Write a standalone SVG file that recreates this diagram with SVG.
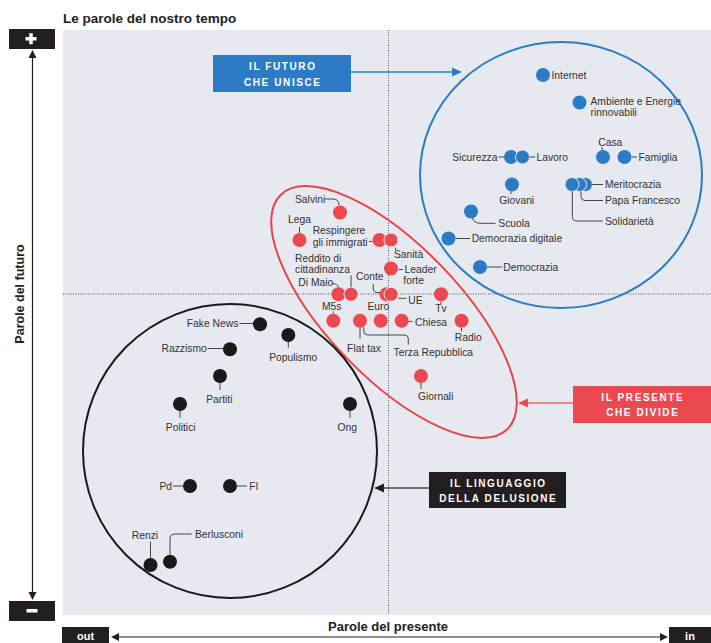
<svg xmlns="http://www.w3.org/2000/svg" width="711" height="643" viewBox="0 0 711 643">
<style>
.lbl{font-family:"Liberation Sans",Arial,sans-serif;font-size:10.3px;fill:#333}
.mid{text-anchor:middle}
.end{text-anchor:end}
.cap{font-family:"Liberation Sans",Arial,sans-serif;font-size:10px;font-weight:bold;fill:#fff;letter-spacing:1.6px;text-anchor:middle}
.ax{font-family:"Liberation Sans",Arial,sans-serif;font-weight:bold;fill:#222}
.ld{fill:none;stroke:#333;stroke-width:0.9}
.b{fill:#2b7cc4}.r{fill:#ea4a4f}.k{fill:#1a1a1a}
.ov{stroke:#e6e9ef;stroke-width:1}
.dot{stroke:#555;stroke-width:1;stroke-dasharray:1 1.5;fill:none}
</style>
<rect x="0" y="0" width="711" height="643" fill="#ffffff"/>
<text class="ax" x="63" y="22.5" font-size="13.5">Le parole del nostro tempo</text>
<rect x="63" y="30" width="648" height="585" fill="#e6e9ef"/>
<line class="dot" x1="388.5" y1="30" x2="388.5" y2="615"/>
<line class="dot" x1="63" y1="294" x2="711" y2="294"/>

<g id="axis-y">
<rect x="9" y="29" width="46" height="20" fill="#231f20"/>
<rect x="25.5" y="37" width="11" height="3.5" fill="#fff"/>
<rect x="29.25" y="33.25" width="3.5" height="11" fill="#fff"/>
<rect x="9" y="601" width="46" height="20" fill="#231f20"/>
<rect x="26.5" y="609" width="11" height="3.5" fill="#fff"/>
<line x1="32.5" y1="57" x2="32.5" y2="593" stroke="#222" stroke-width="1.2"/>
<polygon points="32.5,50 28.5,58 36.5,58" fill="#222"/>
<polygon points="32.5,600 28.5,592 36.5,592" fill="#222"/>
<text class="ax mid" font-size="12.5" transform="translate(23.5,294) rotate(-90)">Parole del futuro</text>
</g>
<g id="axis-x">
<rect x="62" y="627" width="47" height="16" fill="#231f20"/>
<text class="ax mid" x="85.5" y="639.5" font-size="11" style="fill:#fff">out</text>
<rect x="669" y="627" width="42" height="16" fill="#231f20"/>
<text class="ax mid" x="690" y="639.5" font-size="11" style="fill:#fff">in</text>
<line x1="118" y1="637" x2="661" y2="637" stroke="#222" stroke-width="1.2"/>
<polygon points="111,637 119,633 119,641" fill="#222"/>
<polygon points="668,637 660,633 660,641" fill="#222"/>
<text class="ax mid" x="388" y="631" font-size="13">Parole del presente</text>
</g>

<g id="groups">
<ellipse cx="561" cy="175" rx="141" ry="133" fill="none" stroke="#2b7cc4" stroke-width="2"/>
<ellipse cx="394" cy="312" rx="163" ry="66" transform="rotate(46 394 312)" fill="none" stroke="#e8454a" stroke-width="2"/>
<circle cx="230" cy="451" r="147" fill="none" stroke="#1a1a1a" stroke-width="2"/>
</g>

<g id="connectors">
<line x1="351" y1="72" x2="454" y2="72" stroke="#2b7cc4" stroke-width="1.5"/>
<polygon points="462,72 452,67.5 452,76.5" fill="#2b7cc4"/>
<line x1="573" y1="403" x2="526" y2="403" stroke="#ee6468" stroke-width="1.5"/>
<polygon points="518,403 528,398.5 528,407.5" fill="#ea4a4f"/>
<line x1="429" y1="488" x2="382" y2="488" stroke="#444" stroke-width="1.5"/>
<polygon points="374,488 384,483.5 384,492.5" fill="#222"/>
</g>

<g id="callout-futuro">
<rect x="213" y="55" width="138" height="37" fill="#2b7cc4"/>
<text class="cap" x="282.8" y="69.5">IL FUTURO</text>
<text class="cap" x="282.8" y="85.5">CHE UNISCE</text>
</g>
<g id="callout-presente">
<rect x="573" y="386" width="138" height="37" fill="#ea4a4f"/>
<text class="cap" x="642.8" y="400.5">IL PRESENTE</text>
<text class="cap" x="642.8" y="416">CHE DIVIDE</text>
</g>
<g id="callout-delusione">
<rect x="429" y="472" width="137" height="36" fill="#231f20"/>
<text class="cap" x="498.3" y="486.5">IL LINGUAGGIO</text>
<text class="cap" x="498.3" y="502">DELLA DELUSIONE</text>
</g>

<!-- blue nodes -->
<g id="n-internet"><circle class="b" cx="543" cy="75" r="7"/><text class="lbl" x="551.5" y="78.8">Internet</text></g>
<g id="n-ambiente"><circle class="b" cx="579.5" cy="102.5" r="7"/><text class="lbl" x="590.5" y="104.5">Ambiente e Energie</text><text class="lbl" x="590.5" y="115.5">rinnovabili</text></g>
<g id="n-sicurezza"><circle class="b" cx="511" cy="157" r="7"/><text class="lbl end" x="497.5" y="160.7">Sicurezza</text><line class="ld" x1="498.5" y1="157" x2="504" y2="157"/></g>
<g id="n-lavoro"><circle class="b ov" cx="522.5" cy="157" r="7"/><line class="ld" x1="529.5" y1="157" x2="535" y2="157"/><text class="lbl" x="536.5" y="160.7">Lavoro</text></g>
<g id="n-casa"><circle class="b" cx="603" cy="157" r="7"/><text class="lbl" x="598.3" y="145.5">Casa</text><line class="ld" x1="602" y1="147" x2="602" y2="150"/></g>
<g id="n-famiglia"><circle class="b" cx="624.5" cy="157" r="7"/><line class="ld" x1="631.5" y1="157" x2="637" y2="157"/><text class="lbl" x="638.5" y="160.7">Famiglia</text></g>
<g id="n-meritocrazia"><circle class="b ov" cx="585.5" cy="184.5" r="7"/><line class="ld" x1="592" y1="184.5" x2="603" y2="184.5"/><text class="lbl" x="605" y="188.3">Meritocrazia</text></g>
<g id="n-papa"><circle class="b ov" cx="579.5" cy="184.5" r="7"/><path class="ld" d="M581,191.5 V196.5 Q581,200.5 585,200.5 H603"/><text class="lbl" x="605" y="204">Papa Francesco</text></g>
<g id="n-solidarieta"><circle class="b ov" cx="572" cy="184.5" r="7"/><path class="ld" d="M572.3,191.5 V216.5 Q572.3,221 577,221 H603"/><text class="lbl" x="605" y="224.8">Solidarietà</text></g>
<g id="n-giovani"><circle class="b" cx="512" cy="184.5" r="7"/><line class="ld" x1="511" y1="191.5" x2="511" y2="194"/><text class="lbl mid" x="516.7" y="203.5">Giovani</text></g>
<g id="n-scuola"><circle class="b" cx="471" cy="211.5" r="7"/><path class="ld" d="M472.5,218 Q474,223.3 481,223.3 H495.5"/><text class="lbl" x="498.3" y="227">Scuola</text></g>
<g id="n-demdig"><circle class="b" cx="448.5" cy="238.5" r="7"/><line class="ld" x1="455.5" y1="238.5" x2="470" y2="238.5"/><text class="lbl" x="471.7" y="242.2">Democrazia digitale</text></g>
<g id="n-democrazia"><circle class="b" cx="480" cy="267" r="7"/><line class="ld" x1="487" y1="267" x2="502" y2="267"/><text class="lbl" x="503.3" y="270.8">Democrazia</text></g>

<!-- red nodes -->
<g id="n-salvini"><circle class="r" cx="340" cy="212.5" r="7"/><text class="lbl" x="295" y="202.7">Salvini</text><path class="ld" d="M325,199 H333 Q339,199 339,205"/></g>
<g id="n-lega"><circle class="r" cx="299.5" cy="240" r="7"/><text class="lbl mid" x="299.5" y="223">Lega</text><line class="ld" x1="299.5" y1="227" x2="299.5" y2="233"/></g>
<g id="n-respingere"><circle class="r" cx="379.5" cy="240" r="7"/><text class="lbl" x="312.7" y="233.8">Respingere</text><text class="lbl" x="312.7" y="245.5">gli immigrati</text><line class="ld" x1="369" y1="241.5" x2="372.5" y2="241.5"/></g>
<g id="n-sanita"><circle class="r ov" cx="391" cy="240" r="7"/><line class="ld" x1="395.5" y1="247.5" x2="395.5" y2="250"/><text class="lbl" x="394" y="257.8">Sanità</text></g>
<g id="n-leader"><circle class="r" cx="391" cy="268.5" r="7"/><line class="ld" x1="398.5" y1="269.5" x2="403" y2="269.5"/><text class="lbl" x="404.5" y="273">Leader</text><text class="lbl" x="403.3" y="284">forte</text></g>
<g id="n-dimaio"><circle class="r" cx="338.5" cy="294.3" r="7"/><text class="lbl" x="298.3" y="285.5">Di Maio</text><path class="ld" d="M332,283.5 Q337.5,283.5 338.5,287.3"/></g>
<g id="n-reddito"><circle class="r ov" cx="351" cy="294.3" r="7"/><text class="lbl" x="295" y="262">Reddito di</text><text class="lbl" x="295" y="273">cittadinanza</text><line class="ld" x1="351" y1="275.5" x2="351" y2="287.3"/></g>
<g id="n-conte"><circle class="r" cx="386.5" cy="294.3" r="7"/><text class="lbl" x="356" y="279.8">Conte</text><path class="ld" d="M373.3,284 V289 Q373.3,292.5 377,292.5 H380"/></g>
<g id="n-ue"><circle class="r ov" cx="391" cy="294.3" r="7"/><line class="ld" x1="398.3" y1="298.3" x2="406.5" y2="298.3"/><text class="lbl" x="408.3" y="303.6">UE</text></g>
<g id="n-tv"><circle class="r" cx="441" cy="294.3" r="7"/><line class="ld" x1="441" y1="301.5" x2="441" y2="304"/><text class="lbl mid" x="441" y="312.3">Tv</text></g>
<g id="n-m5s"><circle class="r" cx="333.3" cy="320.7" r="7"/><text class="lbl mid" x="331.7" y="309.8">M5s</text><line class="ld" x1="333.3" y1="311.5" x2="333.3" y2="313.5"/></g>
<g id="n-flattax"><circle class="r" cx="360" cy="320.7" r="7"/><line class="ld" x1="360" y1="327.7" x2="360" y2="338.5"/><text class="lbl mid" x="364" y="351.5">Flat tax</text></g>
<g id="n-terza"><path class="ld" d="M363.8,327.2 V331 Q363.8,335 367.8,335 H404 Q408.3,335 408.3,339 V344.5"/><text class="lbl mid" x="433.3" y="355.5">Terza Repubblica</text></g>
<g id="n-euro"><circle class="r" cx="380.7" cy="320.7" r="7"/><text class="lbl mid" x="378.3" y="309.8">Euro</text></g>
<g id="n-chiesa"><circle class="r" cx="401.7" cy="320.7" r="7"/><line class="ld" x1="408.7" y1="321.5" x2="412.5" y2="321.5"/><text class="lbl" x="415" y="326">Chiesa</text></g>
<g id="n-radio"><circle class="r" cx="461.5" cy="320.7" r="7"/><line class="ld" x1="461.5" y1="328" x2="461.5" y2="331.5"/><text class="lbl mid" x="468.3" y="341">Radio</text></g>
<g id="n-giornali"><circle class="r" cx="421" cy="376" r="7"/><line class="ld" x1="421" y1="383" x2="421" y2="389"/><text class="lbl mid" x="435.7" y="400">Giornali</text></g>

<!-- black nodes -->
<g id="n-fakenews"><circle class="k" cx="260" cy="324.3" r="7"/><text class="lbl end" x="238.3" y="327">Fake News</text><line class="ld" x1="239.5" y1="323.5" x2="253" y2="323.5"/></g>
<g id="n-populismo"><circle class="k" cx="288.3" cy="335" r="7"/><line class="ld" x1="288.3" y1="342" x2="288.3" y2="347.5"/><text class="lbl mid" x="293.3" y="360.5">Populismo</text></g>
<g id="n-razzismo"><circle class="k" cx="230" cy="349.3" r="7"/><text class="lbl end" x="206.7" y="352">Razzismo</text><line class="ld" x1="207.5" y1="348.5" x2="223" y2="348.5"/></g>
<g id="n-partiti"><circle class="k" cx="220" cy="376" r="7"/><line class="ld" x1="220" y1="383" x2="220" y2="390"/><text class="lbl mid" x="219.3" y="402.8">Partiti</text></g>
<g id="n-politici"><circle class="k" cx="180" cy="404" r="7"/><line class="ld" x1="180" y1="411" x2="180" y2="418"/><text class="lbl mid" x="180.7" y="430.5">Politici</text></g>
<g id="n-ong"><circle class="k" cx="350" cy="404" r="7"/><line class="ld" x1="350" y1="411" x2="350" y2="418"/><text class="lbl mid" x="347.3" y="430.5">Ong</text></g>
<g id="n-pd"><circle class="k" cx="190" cy="486" r="7"/><text class="lbl end" x="172" y="489.8">Pd</text><line class="ld" x1="173" y1="486" x2="183" y2="486"/></g>
<g id="n-fi"><circle class="k" cx="230" cy="486" r="7"/><line class="ld" x1="237" y1="486" x2="247" y2="486"/><text class="lbl" x="249.3" y="489.8">FI</text></g>
<g id="n-renzi"><circle class="k" cx="150.5" cy="565" r="7"/><text class="lbl mid" x="145" y="538.8">Renzi</text><line class="ld" x1="150.5" y1="541.5" x2="150.5" y2="558"/></g>
<g id="n-berlusconi"><circle class="k" cx="170" cy="561.7" r="7"/><path class="ld" d="M170,554.7 V539 Q170,534 175,534 H191.7"/><text class="lbl" x="195" y="538.3">Berlusconi</text></g>
</svg>
